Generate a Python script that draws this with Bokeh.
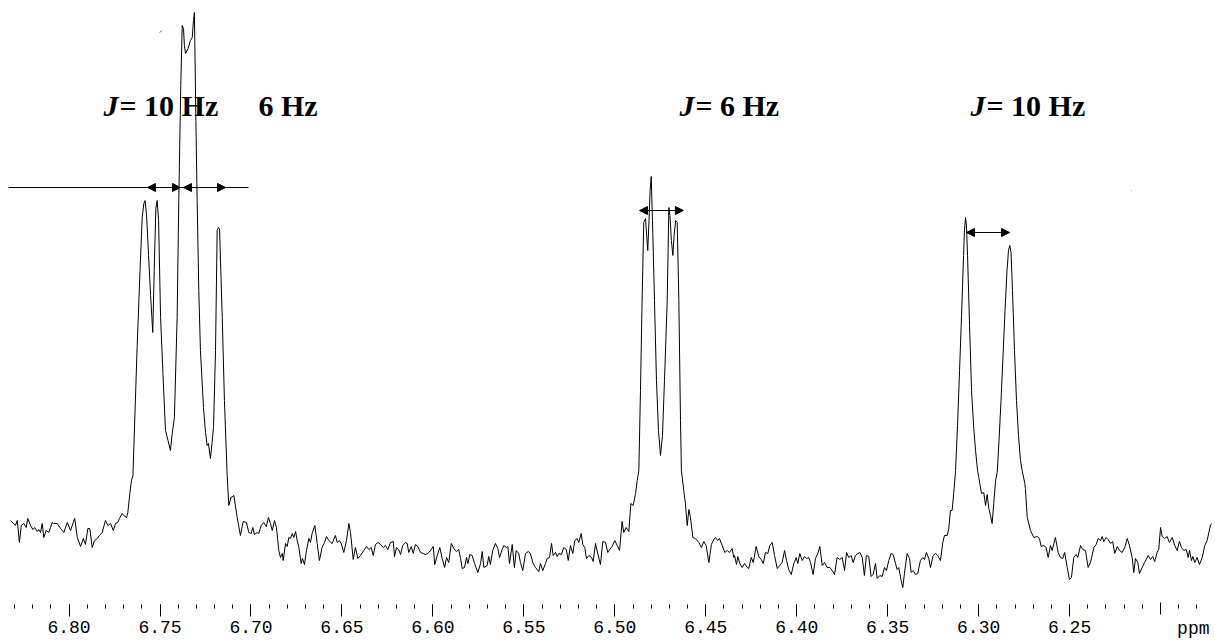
from bokeh.plotting import figure
from bokeh.models import (Range1d, FixedTicker, NumeralTickFormatter, Label, Arrow,
                          NormalHead, LinearAxis)
from bokeh.embed import file_html
from bokeh.resources import INLINE

# chemical shift (ppm) and signal intensity (a.u.)
ppm = [
    6.8322, 6.8295, 6.8285, 6.8273, 6.8263, 6.8249, 6.8236, 6.8227, 6.8212, 6.8199,
    6.8189, 6.8175, 6.8167, 6.8157, 6.8148, 6.8139, 6.8126, 6.8111, 6.8102, 6.8093,
    6.8084, 6.8065, 6.8047, 6.8029, 6.8010, 6.7992, 6.7977, 6.7969, 6.7955, 6.7937,
    6.7922, 6.7910, 6.7897, 6.7886, 6.7873, 6.7860, 6.7845, 6.7833, 6.7818, 6.7800,
    6.7787, 6.7772, 6.7757, 6.7745, 6.7732, 6.7723, 6.7708, 6.7699, 6.7684, 6.7677,
    6.7666, 6.7657, 6.7649, 6.7626, 6.7610, 6.7598, 6.7589, 6.7582, 6.7574, 6.7563,
    6.7552, 6.7540, 6.7532, 6.7523, 6.7516, 6.7508, 6.7497, 6.7484, 6.7470, 6.7456,
    6.7443, 6.7433, 6.7421, 6.7406, 6.7397, 6.7386, 6.7378, 6.7371, 6.7366, 6.7360,
    6.7346, 6.7333, 6.7323, 6.7316, 6.7311, 6.7303, 6.7296, 6.7287, 6.7278, 6.7261,
    6.7250, 6.7241, 6.7234, 6.7223, 6.7214, 6.7206, 6.7195, 6.7186, 6.7179, 6.7173,
    6.7166, 6.7158, 6.7146, 6.7131, 6.7122, 6.7110, 6.7094, 6.7076, 6.7058, 6.7043,
    6.7025, 6.7012, 6.6999, 6.6990, 6.6981, 6.6966, 6.6957, 6.6944, 6.6930, 6.6916,
    6.6904, 6.6893, 6.6883, 6.6871, 6.6860, 6.6847, 6.6838, 6.6828, 6.6823, 6.6810,
    6.6801, 6.6792, 6.6783, 6.6773, 6.6765, 6.6755, 6.6746, 6.6737, 6.6724, 6.6717,
    6.6706, 6.6695, 6.6682, 6.6673, 6.6664, 6.6649, 6.6636, 6.6624, 6.6609, 6.6596,
    6.6585, 6.6572, 6.6554, 6.6536, 6.6526, 6.6514, 6.6504, 6.6490, 6.6475, 6.6462,
    6.6453, 6.6438, 6.6426, 6.6413, 6.6398, 6.6380, 6.6365, 6.6352, 6.6339, 6.6328,
    6.6316, 6.6301, 6.6288, 6.6273, 6.6261, 6.6248, 6.6233, 6.6218, 6.6211, 6.6200,
    6.6188, 6.6178, 6.6166, 6.6151, 6.6141, 6.6133, 6.6119, 6.6108, 6.6096, 6.6083,
    6.6068, 6.6053, 6.6041, 6.6028, 6.6013, 6.5998, 6.5990, 6.5976, 6.5962, 6.5949,
    6.5936, 6.5925, 6.5913, 6.5899, 6.5885, 6.5870, 6.5858, 6.5848, 6.5839, 6.5826,
    6.5815, 6.5808, 6.5797, 6.5784, 6.5771, 6.5753, 6.5738, 6.5729, 6.5720, 6.5702,
    6.5693, 6.5684, 6.5671, 6.5656, 6.5643, 6.5634, 6.5619, 6.5610, 6.5597, 6.5588,
    6.5579, 6.5564, 6.5552, 6.5542, 6.5528, 6.5519, 6.5506, 6.5491, 6.5476, 6.5464,
    6.5451, 6.5436, 6.5418, 6.5409, 6.5396, 6.5381, 6.5372, 6.5359, 6.5348, 6.5339,
    6.5326, 6.5317, 6.5308, 6.5293, 6.5281, 6.5267, 6.5256, 6.5244, 6.5231, 6.5220,
    6.5207, 6.5198, 6.5185, 6.5176, 6.5165, 6.5156, 6.5143, 6.5128, 6.5119, 6.5106,
    6.5094, 6.5079, 6.5066, 6.5051, 6.5039, 6.5028, 6.5015, 6.5000, 6.4987, 6.4974,
    6.4960, 6.4951, 6.4938, 6.4923, 6.4912, 6.4899, 6.4886, 6.4877, 6.4868, 6.4859,
    6.4850, 6.4841, 6.4831, 6.4825, 6.4819, 6.4812, 6.4806, 6.4800, 6.4793, 6.4782,
    6.4771, 6.4760, 6.4749, 6.4738, 6.4727, 6.4712, 6.4703, 6.4697, 6.4689, 6.4681,
    6.4674, 6.4666, 6.4657, 6.4648, 6.4639, 6.4634, 6.4621, 6.4612, 6.4602, 6.4593,
    6.4584, 6.4571, 6.4557, 6.4538, 6.4524, 6.4511, 6.4498, 6.4483, 6.4469, 6.4456,
    6.4447, 6.4434, 6.4425, 6.4410, 6.4395, 6.4382, 6.4370, 6.4355, 6.4346, 6.4342,
    6.4331, 6.4324, 6.4313, 6.4300, 6.4287, 6.4272, 6.4264, 6.4250, 6.4239, 6.4223,
    6.4209, 6.4195, 6.4184, 6.4172, 6.4159, 6.4148, 6.4135, 6.4122, 6.4107, 6.4093,
    6.4080, 6.4067, 6.4056, 6.4044, 6.4030, 6.4016, 6.4003, 6.3994, 6.3983, 6.3970,
    6.3957, 6.3946, 6.3934, 6.3924, 6.3910, 6.3897, 6.3884, 6.3873, 6.3860, 6.3847,
    6.3833, 6.3818, 6.3805, 6.3792, 6.3778, 6.3763, 6.3750, 6.3737, 6.3726, 6.3714,
    6.3701, 6.3690, 6.3677, 6.3664, 6.3653, 6.3640, 6.3628, 6.3617, 6.3604, 6.3591,
    6.3580, 6.3567, 6.3558, 6.3543, 6.3530, 6.3518, 6.3507, 6.3494, 6.3481, 6.3470,
    6.3457, 6.3448, 6.3439, 6.3426, 6.3417, 6.3408, 6.3393, 6.3380, 6.3371, 6.3360,
    6.3347, 6.3335, 6.3320, 6.3307, 6.3298, 6.3287, 6.3274, 6.3265, 6.3250, 6.3237,
    6.3225, 6.3210, 6.3197, 6.3188, 6.3173, 6.3164, 6.3155, 6.3146, 6.3137, 6.3127,
    6.3116, 6.3105, 6.3094, 6.3083, 6.3078, 6.3072, 6.3067, 6.3061, 6.3050, 6.3039,
    6.3028, 6.3017, 6.3006, 6.2999, 6.2994, 6.2984, 6.2972, 6.2962, 6.2953, 6.2944,
    6.2935, 6.2926, 6.2917, 6.2907, 6.2898, 6.2888, 6.2877, 6.2866, 6.2855, 6.2844,
    6.2836, 6.2829, 6.2822, 6.2814, 6.2803, 6.2792, 6.2781, 6.2770, 6.2761, 6.2746,
    6.2743, 6.2733, 6.2715, 6.2697, 6.2678, 6.2666, 6.2656, 6.2642, 6.2629, 6.2618,
    6.2605, 6.2596, 6.2578, 6.2563, 6.2550, 6.2538, 6.2527, 6.2513, 6.2501, 6.2490,
    6.2477, 6.2464, 6.2455, 6.2440, 6.2428, 6.2413, 6.2398, 6.2385, 6.2367, 6.2354,
    6.2343, 6.2330, 6.2321, 6.2312, 6.2299, 6.2288, 6.2275, 6.2263, 6.2252, 6.2238,
    6.2226, 6.2211, 6.2197, 6.2183, 6.2171, 6.2156, 6.2147, 6.2138, 6.2125, 6.2116,
    6.2101, 6.2088, 6.2079, 6.2068, 6.2055, 6.2043, 6.2032, 6.2019, 6.2010, 6.2000,
    6.1991, 6.1978, 6.1964, 6.1951, 6.1936, 6.1922, 6.1909, 6.1896, 6.1885, 6.1872,
    6.1859, 6.1848, 6.1841, 6.1830, 6.1823, 6.1812, 6.1799, 6.1786, 6.1771, 6.1757,
    6.1744, 6.1726, 6.1720,
]
intensity = [
    80, 75, 80, 58, 75, 77, 73, 82, 75, 71,
    73, 69, 71, 68, 77, 63, 70, 68, 73, 78,
    77, 77, 72, 68, 78, 70, 78, 82, 63, 54,
    62, 56, 72, 72, 53, 60, 62, 65, 68, 80,
    75, 77, 70, 77, 78, 82, 87, 85, 83, 88,
    107, 120, 125, 253, 330, 383, 397, 400, 385, 345,
    305, 268, 330, 392, 400, 380, 283, 227, 170, 160,
    150, 167, 183, 283, 400, 515, 575, 572, 555, 547,
    552, 560, 563, 580, 588, 480, 400, 310, 250, 193,
    168, 155, 157, 142, 158, 173, 250, 370, 373, 372,
    330, 283, 200, 125, 95, 103, 105, 83, 65, 79,
    78, 68, 67, 73, 66, 68, 67, 75, 78, 74,
    83, 77, 70, 80, 73, 50, 43, 47, 40, 57,
    54, 63, 62, 67, 63, 69, 60, 53, 37, 42,
    36, 50, 62, 58, 67, 75, 57, 40, 53, 58,
    64, 60, 57, 65, 58, 60, 57, 48, 60, 77,
    68, 41, 53, 42, 45, 50, 54, 51, 53, 45,
    56, 58, 56, 53, 55, 51, 58, 59, 44, 53,
    51, 46, 55, 58, 57, 48, 54, 47, 56, 54,
    48, 47, 46, 47, 50, 54, 36, 45, 53, 42,
    33, 43, 38, 57, 52, 49, 51, 42, 32, 33,
    43, 37, 46, 45, 37, 28, 37, 49, 33, 35,
    44, 36, 50, 57, 52, 43, 51, 55, 53, 54,
    37, 56, 33, 50, 47, 38, 30, 47, 49, 47,
    38, 33, 29, 37, 30, 37, 42, 43, 57, 45,
    48, 44, 47, 46, 53, 51, 40, 55, 47, 60,
    62, 58, 67, 56, 53, 42, 45, 43, 39, 57,
    47, 36, 59, 58, 48, 51, 54, 60, 55, 50,
    79, 68, 73, 69, 97, 95, 107, 120, 130, 210,
    300, 378, 382, 365, 350, 380, 410, 424, 380, 300,
    220, 170, 145, 165, 220, 300, 393, 385, 360, 345,
    365, 380, 378, 300, 180, 130, 110, 97, 75, 91,
    83, 63, 62, 58, 53, 59, 55, 38, 56, 61,
    63, 60, 62, 55, 48, 50, 48, 52, 43, 45,
    36, 44, 37, 33, 37, 33, 32, 43, 38, 54,
    44, 41, 37, 48, 47, 55, 58, 45, 32, 35,
    38, 50, 40, 31, 26, 37, 43, 37, 47, 40,
    44, 42, 43, 38, 26, 42, 47, 54, 35, 38,
    33, 33, 30, 26, 43, 41, 43, 30, 48, 43,
    45, 38, 45, 47, 48, 43, 25, 45, 44, 24,
    26, 37, 22, 25, 24, 33, 30, 40, 47, 46,
    37, 31, 33, 20, 13, 27, 47, 42, 28, 30,
    26, 27, 40, 43, 41, 48, 42, 33, 45, 47,
    45, 40, 58, 65, 65, 72, 90, 90, 107, 130,
    175, 230, 285, 345, 370, 383, 375, 345, 275, 210,
    175, 150, 130, 123, 117, 107, 108, 95, 106, 92,
    85, 77, 97, 120, 128, 160, 200, 245, 290, 330,
    350, 355, 348, 310, 250, 200, 165, 140, 130, 117,
    112, 83, 70, 63, 64, 62, 54, 55, 53, 43,
    55, 50, 63, 48, 43, 42, 48, 33, 21, 23,
    43, 46, 43, 55, 51, 50, 33, 38, 53, 56,
    62, 60, 64, 59, 63, 61, 57, 59, 47, 54,
    50, 48, 53, 62, 55, 43, 28, 42, 38, 27,
    33, 38, 41, 45, 41, 44, 39, 48, 51, 73,
    64, 62, 64, 58, 63, 55, 50, 59, 53, 50,
    51, 43, 50, 40, 44, 38, 43, 36, 43, 55,
    60, 75, 77,
]

labelled_ticks = [6.25, 6.30, 6.35, 6.40, 6.45, 6.50, 6.55, 6.60, 6.65, 6.70, 6.75, 6.80]
unlabelled_major_ticks = [6.20]
minor_ticks = [6.18, 6.19, 6.20, 6.21, 6.22, 6.23, 6.24, 6.25, 6.26, 6.27, 6.28, 6.29,
               6.30, 6.31, 6.32, 6.33, 6.34, 6.35, 6.36, 6.37, 6.38, 6.39, 6.40, 6.41,
               6.42, 6.43, 6.44, 6.45, 6.46, 6.47, 6.48, 6.49, 6.50, 6.51, 6.52, 6.53,
               6.54, 6.55, 6.56, 6.57, 6.58, 6.59, 6.60, 6.61, 6.62, 6.63, 6.64, 6.65,
               6.66, 6.67, 6.68, 6.69, 6.70, 6.71, 6.72, 6.73, 6.74, 6.75, 6.76, 6.77,
               6.78, 6.79, 6.80, 6.81, 6.82, 6.83]
unit_tick = [6.182]
unit_label = {6.182: "ppm"}

# coupling annotations
j_labels_x = [6.7811, 6.4645, 6.3045]
j_rest_x = [6.7723, 6.4557, 6.2957]
j_rest_text = ["= 10 Hz", "= 6 Hz", "= 10 Hz"]
j_label_y = 495
hz6_x = 6.6959
arrow_pairs = [(6.7569, 6.7388, 413), (6.7371, 6.7140, 413),
               (6.4864, 6.4623, 390), (6.3067, 6.2830, 368)]
guide_line = (6.8333, 6.7014, 413)

p = figure(width=1215, height=641, output_backend="svg", toolbar_location=None,
           x_range=Range1d(6.8377, 6.1698), y_range=Range1d(-4, 600),
           min_border=0, min_border_left=0, min_border_right=0, min_border_top=0,
           min_border_bottom=37, y_axis_location=None, x_axis_location="below")
p.outline_line_color = None
p.xgrid.visible = False
p.ygrid.visible = False
p.background_fill_color = "white"
p.border_fill_color = "white"

# axis 1: ticks and numeric labels
ax = p.xaxis[0]
ax.ticker = FixedTicker(ticks=labelled_ticks, minor_ticks=minor_ticks)
ax.formatter = NumeralTickFormatter(format="0.00")
ax.axis_line_color = None
ax.major_tick_in = 0
ax.major_tick_out = 12
ax.minor_tick_in = 0
ax.minor_tick_out = 4
ax.major_tick_line_color = "black"
ax.minor_tick_line_color = "black"
ax.major_label_text_font = "Liberation Mono"
ax.major_label_text_font_size = "18px"
ax.major_label_text_color = "black"
ax.major_label_standoff = 4

# axis 2: the unit label on the same line, and the unlabelled long tick at 6.20
ax2 = LinearAxis(ticker=FixedTicker(ticks=unit_tick, minor_ticks=unlabelled_major_ticks),
                 formatter=NumeralTickFormatter(format="0.00"),
                 major_label_overrides=unit_label)
ax2.axis_line_color = None
ax2.major_tick_line_color = None
ax2.major_tick_in = 0
ax2.major_tick_out = 0
ax2.minor_tick_line_color = "black"
ax2.minor_tick_in = 33
ax2.minor_tick_out = -21
ax2.major_label_text_font = "Liberation Mono"
ax2.major_label_text_font_size = "18px"
ax2.major_label_text_color = "black"
ax2.major_label_standoff = -17
p.add_layout(ax2, "below")

p.line(ppm, intensity, line_color="black", line_width=1)

# guide line and double arrows
p.segment(x0=[guide_line[0]], y0=[guide_line[2]], x1=[guide_line[1]], y1=[guide_line[2]],
          line_color="black", line_width=1)
for xs, xe, yy in arrow_pairs:
    p.add_layout(Arrow(x_start=xs, y_start=yy, x_end=xe, y_end=yy, line_color="black", line_width=1,
                       start=NormalHead(size=8, fill_color="black", line_color="black", line_width=1),
                       end=NormalHead(size=8, fill_color="black", line_color="black", line_width=1)))

# small stray marks
p.segment(x0=[6.7503], y0=[568], x1=[6.7488], y1=[570], line_color="#4a86c8", line_width=1)
p.segment(x0=[6.2163], y0=[410], x1=[6.2158], y1=[410], line_color="#999999", line_width=1)

for xj, xr, tr in zip(j_labels_x, j_rest_x, j_rest_text):
    p.add_layout(Label(x=xj, y=j_label_y, text="J", text_font="Liberation Serif",
                       text_font_style="bold italic", text_font_size="30px",
                       text_baseline="alphabetic", text_color="black"))
    p.add_layout(Label(x=xr, y=j_label_y, text=tr, text_font="Liberation Serif",
                       text_font_style="bold", text_font_size="30px",
                       text_baseline="alphabetic", text_color="black"))
p.add_layout(Label(x=hz6_x, y=j_label_y, text="6 Hz", text_font="Liberation Serif",
                   text_font_style="bold", text_font_size="30px",
                   text_baseline="alphabetic", text_color="black"))

open("out.html", "w").write(file_html(p, INLINE))
